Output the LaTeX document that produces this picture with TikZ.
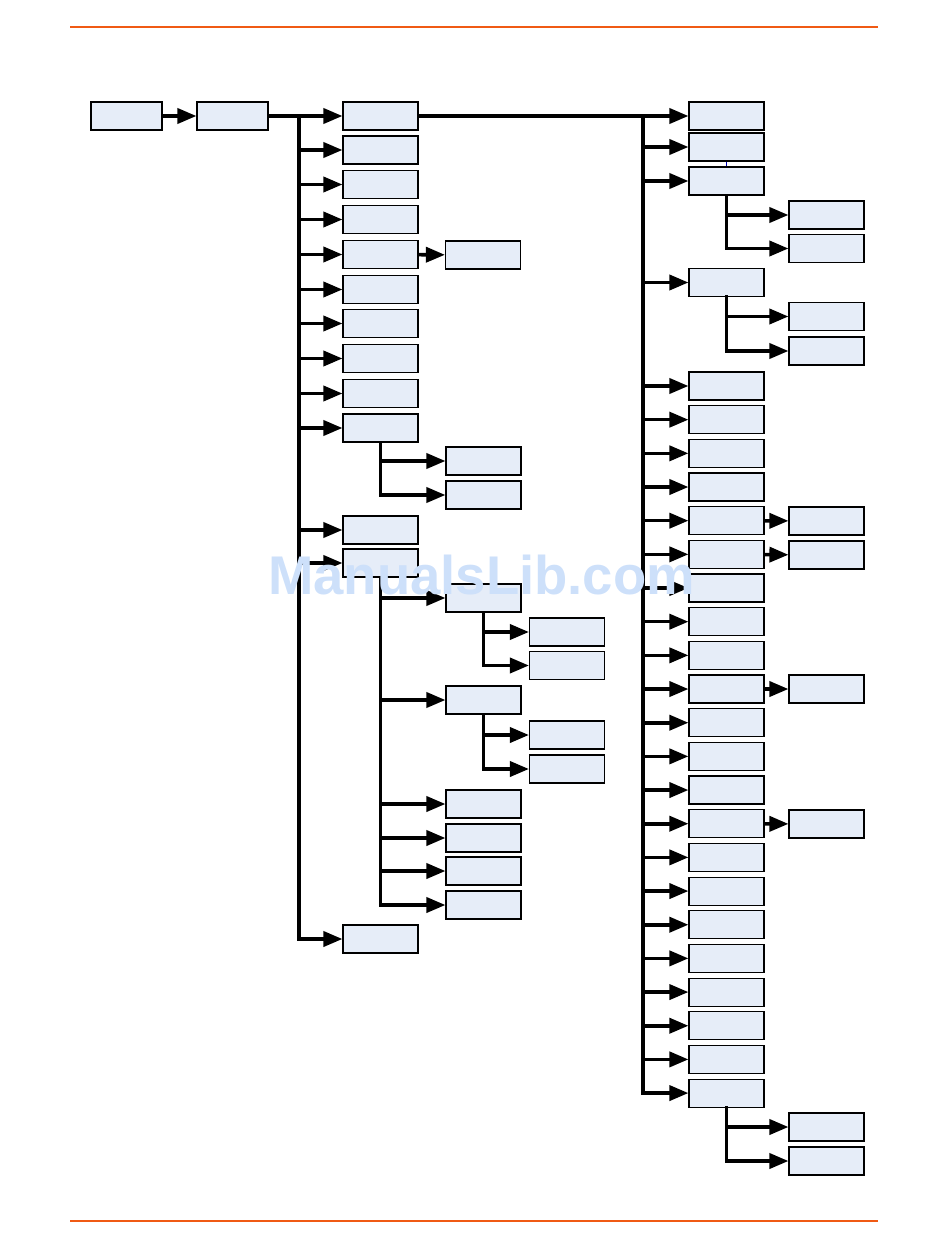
\documentclass[tikz,border=0pt]{standalone}
\usepackage{fontspec}
\setmainfont{Liberation Sans}
\usetikzlibrary{arrows.meta}
\definecolor{boxfill}{RGB}{230,237,248}
\definecolor{rulecol}{RGB}{240,90,20}
\definecolor{wm}{RGB}{205,224,250}
\begin{document}
\begin{tikzpicture}[x=1pt,y=-1pt,
  bx/.style={draw=black,fill=boxfill,line width=1.1pt,minimum width=75pt,minimum height=28pt,inner sep=0pt},
  trunk/.style={line width=3.2pt,line cap=rect},
  conn/.style={line width=3.6pt},
  arr/.style={conn,-{Triangle[length=19pt,width=15pt]}}]
\useasboundingbox (0,0) rectangle (950,1260);
\draw[rulecol,line width=2pt] (70,27) -- (878,27);
\draw[rulecol,line width=2pt] (70,1221) -- (878,1221);

% root boxes
\node[bx,minimum width=71pt] (r) at (126.5,116) {};
\node[bx,minimum width=71pt] (s) at (232.5,116) {};

% column A
\foreach \yy [count=\i] in {116,150,184.5,219.5,254.5,289.5,323.5,358.5,393.5,428,530,563,939}
  \node[bx] (a\i) at (380.5,\yy) {};
\node[bx] (a5c) at (483,255) {};
\node[bx] (b1) at (483.5,461) {};
\node[bx] (b2) at (483.5,495) {};
\foreach \yy [count=\i] in {598,700,804,838,871,905}
  \node[bx] (c\i) at (483.5,\yy) {};
\node[bx] (c1a) at (567,632) {};
\node[bx] (c1b) at (567,665.5) {};
\node[bx] (c2a) at (567,735) {};
\node[bx] (c2b) at (567,769) {};

% column D
\node[bx] (d1) at (726.5,116) {};
\node[bx] (d2) at (726.5,147) {};
\node[bx] (d3) at (726.5,181) {};
\node[bx] (d4) at (726.5,282.5) {};
\foreach \k in {0,...,21}{
  \pgfmathtruncatemacro{\n}{\k+5}
  \pgfmathsetmacro{\yy}{386+\k*33.67}
  \node[bx] (d\n) at (726.5,\yy) {};
}
\node[bx] (e1) at (826.5,215) {};
\node[bx] (e2) at (826.5,248.5) {};
\node[bx] (f1) at (826.5,316.5) {};
\node[bx] (f2) at (826.5,351) {};
\node[bx] (g9) at (826.5,521) {};
\node[bx] (g10) at (826.5,555) {};
\node[bx] (g14) at (826.5,689) {};
\node[bx] (g18) at (826.5,824) {};
\node[bx] (h1) at (826.5,1127) {};
\node[bx] (h2) at (826.5,1161) {};

% connectors
\draw[arr] (r) -- (s);
\coordinate (ta) at (299,116);
\draw[arr] (s.east) -- (a1.west);
\draw[trunk] (ta) -- (ta |- a13.west);
\foreach \i in {2,...,13}
  \draw[arr] (ta |- a\i.west) -- (a\i.west);
\draw[arr] (a5) -- (a5c);
\draw[trunk] (a10.south) -- (a10.south |- b2.west);
\draw[arr] (a10.south |- b2.west) -- (b2.west);
\draw[arr] (a10.south |- b1.west) -- (b1.west);
\draw[trunk] (a12.south) -- (a12.south |- c6.west);
\foreach \i in {1,...,6}
  \draw[arr] (a12.south |- c\i.west) -- (c\i.west);
\draw[trunk] (c1.south) -- (c1.south |- c1b.west);
\draw[arr] (c1.south |- c1b.west) -- (c1b.west);
\draw[arr] (c1.south |- c1a.west) -- (c1a.west);
\draw[trunk] (c2.south) -- (c2.south |- c2b.west);
\draw[arr] (c2.south |- c2b.west) -- (c2b.west);
\draw[arr] (c2.south |- c2a.west) -- (c2a.west);

\coordinate (td) at (643,116);
\draw[arr] (a1.east) -- (d1.west);
\draw[trunk] (td) -- (td |- d26.west);
\foreach \i in {2,...,26}
  \draw[arr] (td |- d\i.west) -- (d\i.west);
\draw[blue!70!black,line width=0.5pt] (d2.south) -- (d3.north);
\draw[trunk] (d3.south) -- (d3.south |- e2.west);
\draw[arr] (d3.south |- e2.west) -- (e2.west);
\draw[arr] (d3.south |- e1.west) -- (e1.west);
\draw[trunk] (d4.south) -- (d4.south |- f2.west);
\draw[arr] (d4.south |- f2.west) -- (f2.west);
\draw[arr] (d4.south |- f1.west) -- (f1.west);
\draw[arr] (d9) -- (g9);
\draw[arr] (d10) -- (g10);
\draw[arr] (d14) -- (g14);
\draw[arr] (d18) -- (g18);
\draw[trunk] (d26.south) -- (d26.south |- h2.west);
\draw[arr] (d26.south |- h2.west) -- (h2.west);
\draw[arr] (d26.south |- h1.west) -- (h1.west);

% watermark
\node[anchor=base,inner sep=0pt,text=wm,font=\bfseries\fontsize{54.5}{60}\selectfont] (wmk) at (481.5,594) {ManualsLib.com};
\end{tikzpicture}
\end{document}
